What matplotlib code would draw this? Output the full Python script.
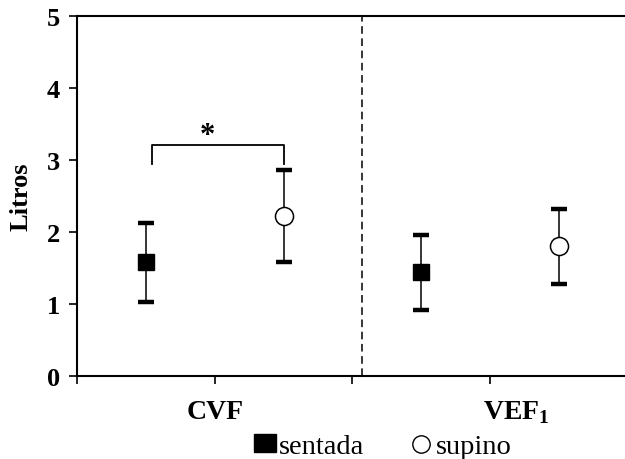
import matplotlib
matplotlib.use("Agg")
import matplotlib.pyplot as plt
from matplotlib.lines import Line2D
from matplotlib.patches import Patch

plt.rcParams['font.family'] = ['Liberation Serif', 'DejaVu Serif']

categories = ["CVF", "VEF$_{\\mathregular{1}}$"]
sentada_mean = [1.58, 1.44]
sentada_sd = [0.55, 0.52]
supino_mean = [2.22, 1.80]
supino_sd = [0.64, 0.52]
series_labels = ["sentada", "supino"]
yticks = [0, 1, 2, 3, 4, 5]

fig = plt.figure(figsize=(6.25, 4.6), dpi=100)
ax = fig.add_axes([0.1232, 0.181, 0.8768, 0.781])

x_sent = [0.5, 2.5]
x_sup = [1.5, 3.5]

e1 = ax.errorbar(x_sent, sentada_mean, yerr=sentada_sd, fmt='s', color='black',
                 markersize=11, ecolor='black', elinewidth=1.1, capsize=5.5,
                 zorder=3)
e2 = ax.errorbar(x_sup, supino_mean, yerr=supino_sd, fmt='o', color='black',
                 markerfacecolor='white', markeredgecolor='black',
                 markersize=13, ecolor='black', elinewidth=1.1, capsize=5.5,
                 zorder=3)
for eb in (e1, e2):
    for cap in eb[1]:
        cap.set_markeredgewidth(3.2)
e2[0].set_markeredgewidth(1.1)

# dashed separator
ax.axvline(2.07, color='black', linestyle=(0, (5, 3)), linewidth=1.1, zorder=1)

# significance bracket
ax.plot([0.545, 0.545, 1.5, 1.5], [2.94, 3.21, 3.21, 2.94], color='black', linewidth=1.3)
ax.text(0.945, 3.14, "*", ha='center', va='bottom', fontsize=22, fontweight='bold')

ax.set_xlim(0, 3.98)
ax.set_ylim(0, 5)
ax.set_yticks(yticks)
ax.set_yticklabels([str(t) for t in yticks], fontsize=19, fontweight='bold')
ax.set_xticks([0, 1, 2, 3])
ax.set_xticklabels([])
ax.tick_params(axis='both', direction='out', length=5.5, width=1.2)
ax.tick_params(axis='y', pad=7)

for s in ['left', 'bottom', 'top']:
    ax.spines[s].set_linewidth(1.5)
ax.spines['right'].set_visible(False)

ax.set_ylabel("Litros", fontsize=19, fontweight='bold', labelpad=10)

# category labels
ax.text(1.0, -0.5, categories[0], ha='center', va='center', fontsize=20, fontweight='bold')
ax.text(3.19, -0.5, categories[1], ha='center', va='center', fontsize=20, fontweight='bold')

handles = [
    Patch(facecolor='black', edgecolor='black'),
    Line2D([], [], marker='o', linestyle='none', markerfacecolor='white',
           markeredgecolor='black', markersize=12.5, markeredgewidth=1.0),
]
fig.legend(handles, series_labels, loc='center', bbox_to_anchor=(0.612, 0.027),
           ncol=2, frameon=False, fontsize=20.5, handletextpad=0.1,
           columnspacing=1.6, handlelength=0.8, handleheight=0.55, borderpad=0)

fig.savefig("out.png", dpi=100)
